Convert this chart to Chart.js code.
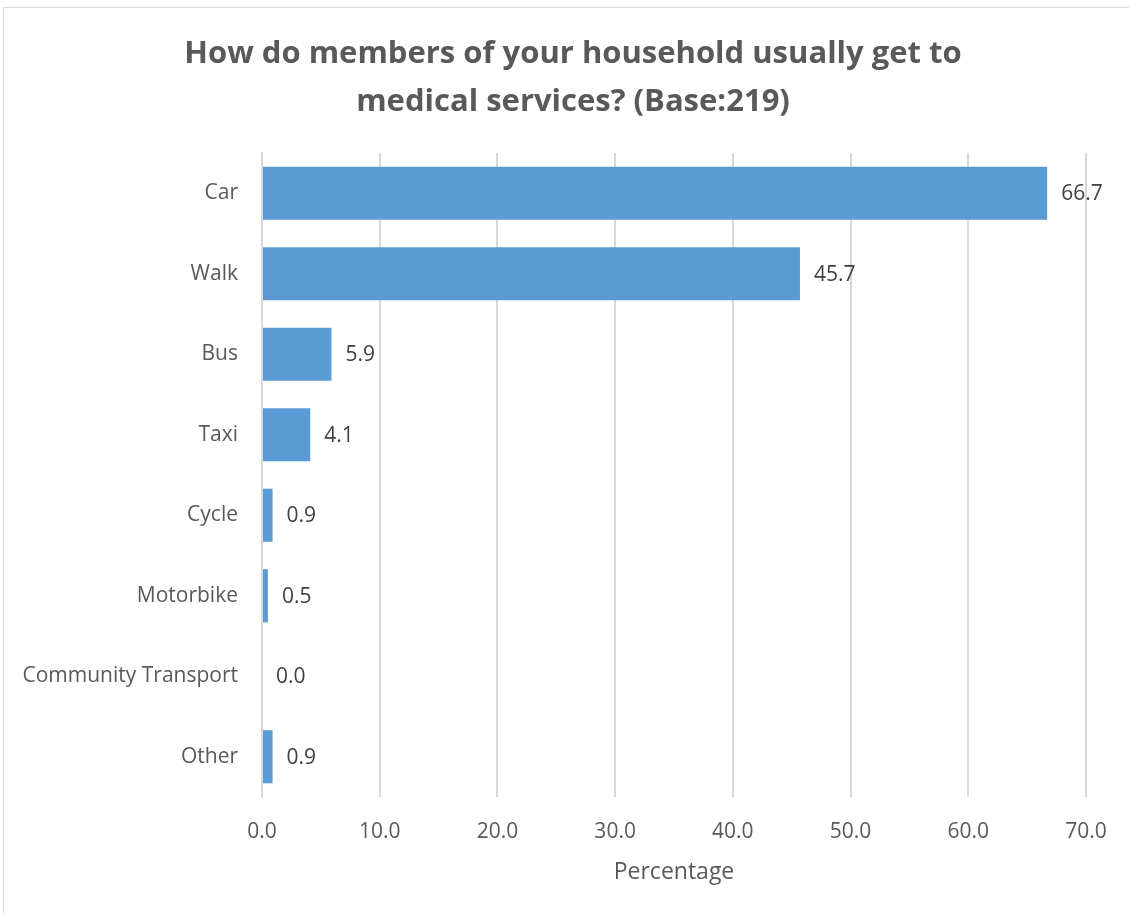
<!DOCTYPE html>
<html>
<head>
<meta charset="utf-8">
<script src="https://cdn.jsdelivr.net/npm/chart.js@4"></script>
<style>
  html, body { margin: 0; padding: 0; background: #fff; overflow: hidden; }
  #wrap {
    position: absolute; left: 3px; top: 7px;
    width: 1140px; height: 920px;
    border: 1px solid #d9d9d9; box-sizing: border-box;
  }
</style>
</head>
<body>
<div id="wrap"><canvas id="chart"></canvas></div>
<script>
const categories = ['Car', 'Walk', 'Bus', 'Taxi', 'Cycle', 'Motorbike', 'Community Transport', 'Other'];
const percentages = [66.7, 45.7, 5.9, 4.1, 0.9, 0.5, 0.0, 0.9];
const xTicks = [0, 10, 20, 30, 40, 50, 60, 70];
const titleLines = ['How do members of your household usually get to', 'medical services? (Base:219)'];

const FONT = "'Open Sans', sans-serif";
const TEXT = '#595959';

// title centred over the whole chart box (built-in title would skip the right padding)
const chartTitle = {
    id: 'chartTitle',
    afterDraw(chart) {
        const ctx = chart.ctx;
        ctx.save();
        ctx.font = 'bold 31px ' + FONT;
        ctx.fillStyle = TEXT;
        ctx.textAlign = 'center';
        ctx.textBaseline = 'alphabetic';
        titleLines.forEach((line, i) => {
            ctx.fillText(line, chart.width / 2, 55 + i * 48);
        });
        ctx.restore();
    }
};

// draws the value to the right of each bar, like the Excel data labels
const valueLabels = {
    id: 'valueLabels',
    afterDatasetsDraw(chart) {
        const ctx = chart.ctx;
        const meta = chart.getDatasetMeta(0);
        ctx.save();
        ctx.font = '21px ' + FONT;
        ctx.fillStyle = '#404040';
        ctx.textBaseline = 'middle';
        ctx.textAlign = 'left';
        meta.data.forEach((bar, i) => {
            ctx.fillText(percentages[i].toFixed(1), bar.x + 14, bar.y + 1);
        });
        ctx.restore();
    }
};

new Chart(document.getElementById('chart').getContext('2d'), {
    type: 'bar',
    data: {
        labels: categories,
        datasets: [{
            data: percentages,
            backgroundColor: '#5B9BD5',
            borderWidth: 0,
            categoryPercentage: 1.0,
            barPercentage: 0.66
        }]
    },
    options: {
        indexAxis: 'y',
        responsive: true,
        maintainAspectRatio: false,
        animation: false,
        layout: { padding: { left: 0, right: 56, top: 145, bottom: 0 } },
        plugins: {
            legend: { display: false },
            tooltip: { enabled: false },
            title: { display: false }
        },
        scales: {
            x: {
                min: 0,
                max: 70,
                afterBuildTicks(axis) {
                    axis.ticks = xTicks.map(v => ({ value: v }));
                },
                afterFit(axis) { axis.height = 129; },
                grid: { color: '#d9d9d9', lineWidth: 2, drawTicks: false },
                border: { display: false },
                ticks: {
                    color: TEXT,
                    font: { family: FONT, size: 21 },
                    padding: 22,
                    callback: v => Number(v).toFixed(1)
                },
                title: {
                    display: true,
                    text: 'Percentage',
                    color: TEXT,
                    font: { family: FONT, size: 23 },
                    padding: { top: 0, bottom: 40 }
                }
            },
            y: {
                afterFit(axis) { axis.width = 258; },
                grid: { display: false, drawTicks: false },
                border: { display: true, color: '#d9d9d9', width: 2 },
                ticks: {
                    color: TEXT,
                    font: { family: FONT, size: 21 },
                    padding: 24
                }
            }
        }
    },
    plugins: [valueLabels, chartTitle]
});
</script>
</body>
</html>
